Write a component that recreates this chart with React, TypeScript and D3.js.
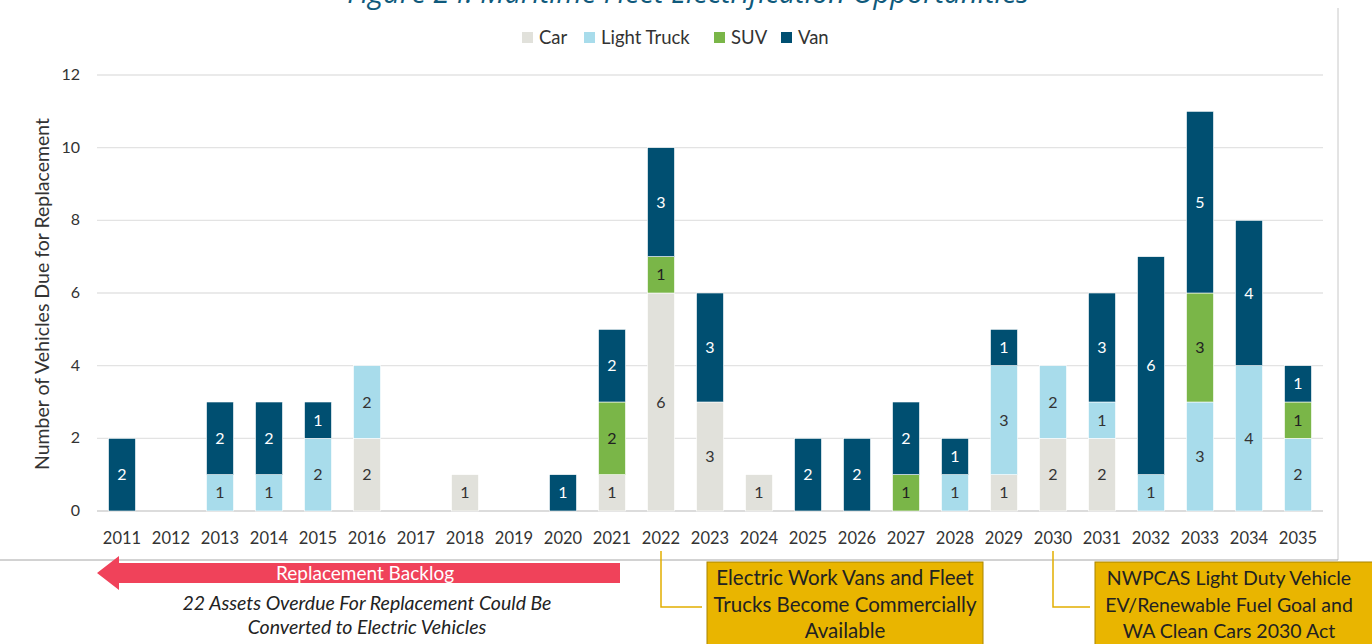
import * as d3 from "d3";

const years = [
  "2011", "2012", "2013", "2014", "2015", "2016", "2017", "2018", "2019", "2020",
  "2021", "2022", "2023", "2024", "2025", "2026", "2027", "2028", "2029", "2030",
  "2031", "2032", "2033", "2034", "2035",
];
const car = [0, 0, 0, 0, 0, 2, 0, 1, 0, 0, 1, 6, 3, 1, 0, 0, 0, 0, 1, 2, 2, 0, 0, 0, 0];
const lightTruck = [0, 0, 1, 1, 2, 2, 0, 0, 0, 0, 0, 0, 0, 0, 0, 0, 0, 1, 3, 2, 1, 1, 3, 4, 2];
const suv = [0, 0, 0, 0, 0, 0, 0, 0, 0, 0, 2, 1, 0, 0, 0, 0, 1, 0, 0, 0, 0, 0, 3, 0, 1];
const van = [2, 0, 2, 2, 1, 0, 0, 0, 0, 1, 2, 3, 3, 0, 2, 2, 2, 1, 1, 0, 3, 6, 5, 4, 1];
const yTicks = [0, 2, 4, 6, 8, 10, 12];

const series = [
  { name: "Car", values: car, color: "#E1E1DB", text: "#333" },
  { name: "Light Truck", values: lightTruck, color: "#A8DCEB", text: "#333" },
  { name: "SUV", values: suv, color: "#7AB648", text: "#222" },
  { name: "Van", values: van, color: "#004F71", text: "#fff" },
];

const W = 1372;
const H = 644;
const FONT = "Lato, 'Open Sans', sans-serif";

export default function App() {
  const x = d3.scaleBand<string>().domain(years).range([97.5, 1322.5]).paddingInner(0.45).paddingOuter(0.225);
  const y = d3.scaleLinear().domain([0, 12]).range([511, 75]);

  const rows = years.map((yr, i) => {
    const r: Record<string, number | string> = { year: yr };
    series.forEach((s) => (r[s.name] = s.values[i]));
    return r;
  });
  const stacked = d3.stack<Record<string, number | string>>().keys(series.map((s) => s.name))(rows as any);

  const legendX = [522, 584, 714, 781];

  return (
    <svg width={W} height={H} style={{ position: "absolute", left: 0, top: 0, background: "#fff" }} fontFamily={FONT}>
      {/* title, clipped at top as in the source */}
      <text x={688} y={3} textAnchor="middle" fontFamily="'Open Sans', sans-serif" fontStyle="italic" fontSize={29} fill="#0F5A7C">
        Figure 24: Maritime Fleet Electrification Opportunities
      </text>

      {/* frame */}
      <line x1={1338} x2={1338} y1={8} y2={560} stroke="#C8C8C8" />
      <line x1={0} x2={1338} y1={560} y2={560} stroke="#A6A6A6" />

      {/* legend */}
      {series.map((s, i) => (
        <g key={s.name} transform={`translate(${legendX[i]},38)`}>
          <rect x={0} y={-6} width={11} height={11} fill={s.color} />
          <text x={17} y={6} fontSize={18.5} fill="#333">{s.name}</text>
        </g>
      ))}

      {/* grid */}
      {yTicks.map((t) => (
        <g key={t}>
          <line x1={97} x2={1323} y1={y(t)} y2={y(t)} stroke={t === 0 ? "#D0D0D0" : "#E3E3E3"} strokeWidth={1.3} />
          <text x={80} y={y(t) + 5} textAnchor="end" fontSize={16} fill="#333">{t}</text>
        </g>
      ))}

      <text transform={`translate(49,294) rotate(-90)`} textAnchor="middle" fontSize={19.5} fill="#333">
        Number of Vehicles Due for Replacement
      </text>

      {/* bars */}
      {stacked.map((layer, si) => (
        <g key={series[si].name}>
          {layer.map((d, i) => {
            const v = d[1] - d[0];
            if (!v) return null;
            const y0 = y(d[0]);
            const y1 = y(d[1]);
            return (
              <g key={i}>
                <rect x={x(years[i])} y={y1} width={x.bandwidth()} height={y0 - y1} fill={series[si].color} stroke="#fff" strokeWidth={0.6} />
                <text x={x(years[i])! + x.bandwidth() / 2} y={(y0 + y1) / 2 + 5.5} textAnchor="middle" fontSize={16} fill={series[si].text}>
                  {v}
                </text>
              </g>
            );
          })}
        </g>
      ))}

      {/* x labels */}
      {years.map((yr) => (
        <text key={yr} x={x(yr)! + x.bandwidth() / 2} y={544} textAnchor="middle" fontSize={16.5} fill="#333">
          {yr}
        </text>
      ))}

      {/* backlog arrow */}
      <path d="M97,573 L119,556 L119,563 L620,563 L620,583 L119,583 L119,590 Z" fill="#F0425A" />
      <text x={365} y={580} textAnchor="middle" fontSize={19} fill="#fff">Replacement Backlog</text>
      <text x={367} y={610} textAnchor="middle" fontSize={19.5} fontStyle="italic" fill="#222">
        22 Assets Overdue For Replacement Could Be
      </text>
      <text x={367} y={634} textAnchor="middle" fontSize={19.5} fontStyle="italic" fill="#222">
        Converted to Electric Vehicles
      </text>

      {/* connectors */}
      <path d={`M${x("2022")! + x.bandwidth() / 2},551 V607 H702`} fill="none" stroke="#E2AE00" strokeWidth={1.5} />
      <path d={`M${x("2030")! + x.bandwidth() / 2},551 V607 H1090`} fill="none" stroke="#E2AE00" strokeWidth={1.5} />

      {/* callouts */}
      <rect x={707} y={562} width={276} height={90} fill="#E9B500" stroke="#A88400" />
      <text x={845} y={585} textAnchor="middle" fontSize={20.5} fill="#222">Electric Work Vans and Fleet</text>
      <text x={845} y={612} textAnchor="middle" fontSize={20.5} fill="#222">Trucks Become Commercially</text>
      <text x={845} y={638} textAnchor="middle" fontSize={20.5} fill="#222">Available</text>

      <rect x={1095} y={562} width={290} height={90} fill="#E9B500" stroke="#A88400" />
      <text x={1229} y={585} textAnchor="middle" fontSize={19.5} fill="#222">NWPCAS Light Duty Vehicle</text>
      <text x={1229} y={612} textAnchor="middle" fontSize={19.5} fill="#222">EV/Renewable Fuel Goal and</text>
      <text x={1229} y={638} textAnchor="middle" fontSize={19.5} fill="#222">WA Clean Cars 2030 Act</text>
    </svg>
  );
}
